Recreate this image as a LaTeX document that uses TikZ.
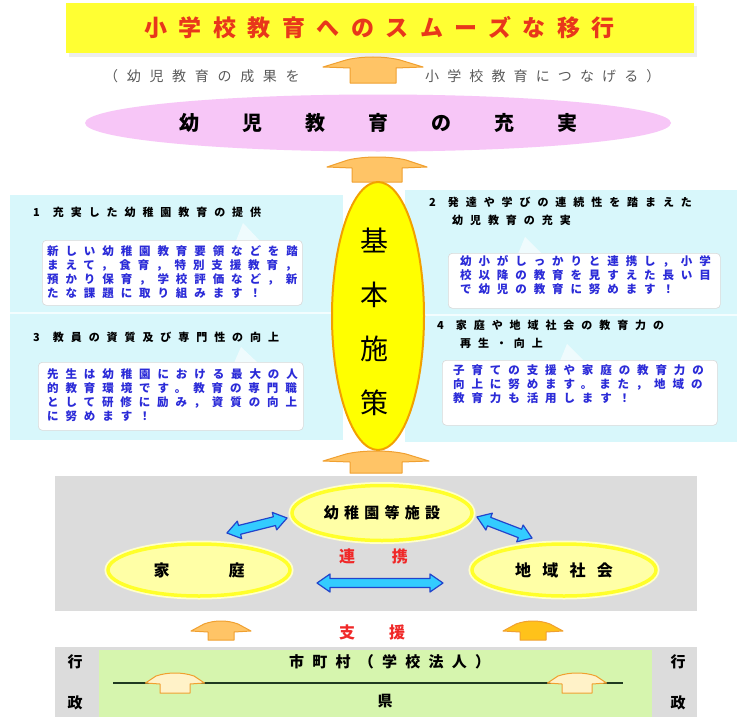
\documentclass[tikz,border=0pt]{standalone}
\usepackage{fontspec}
\setmainfont{Noto Sans CJK JP}
\usetikzlibrary{shapes.geometric}
\definecolor{titleyellow}{HTML}{FFFF33}
\definecolor{titlered}{HTML}{E8371B}
\definecolor{subgray}{HTML}{5A5A5A}
\definecolor{pinkfill}{HTML}{F7C6F7}
\definecolor{arrfill}{HTML}{FFC466}
\definecolor{arrfilltwo}{HTML}{FFC21A}
\definecolor{arrline}{HTML}{F0A030}
\definecolor{creamfill}{HTML}{FFF2C8}
\definecolor{panelcyan}{HTML}{D8F7FB}
\definecolor{bluetext}{HTML}{2B2BD8}
\definecolor{kyellow}{HTML}{FFFF00}
\definecolor{korange}{HTML}{F2A000}
\definecolor{panelgray}{HTML}{DCDCDC}
\definecolor{lyfill}{HTML}{FFFFA6}
\definecolor{lyline}{HTML}{FFFF2A}
\definecolor{cyanfill}{HTML}{33CCFF}
\definecolor{cyanline}{HTML}{2244CC}
\definecolor{redtext}{HTML}{F02828}
\definecolor{greenfill}{HTML}{D6F5AE}
\definecolor{dkgreen}{HTML}{203A20}
\newcommand\UpArr[6]{%
  \path[draw=arrline,fill=#6,line width=1pt,line join=round]
   ({#1-#3/2},{#2+10}) -- ({#1-#4-4},{#2+3})
   .. controls ({#1-#4/2},{#2-1}) and ({#1+#4/2},{#2-1}) .. ({#1+#4+4},{#2+3})
   -- ({#1+#3/2},{#2+10}) -- ({#1+#4},{#2+11}) -- ({#1+#4},{#2+#5})
   -- ({#1-#4},{#2+#5}) -- ({#1-#4},{#2+11}) -- cycle;}
\newcommand\DblArr[4]{%
  \path[draw=cyanline,fill=cyanfill,line width=1.2pt,line join=round,shift={(#1,#2)},rotate=#4]
   ({-#3/2},0) -- ({-#3/2+13},-9) -- ({-#3/2+13},-4.5) -- ({#3/2-13},-4.5)
   -- ({#3/2-13},-9) -- ({#3/2},0) -- ({#3/2-13},9) -- ({#3/2-13},4.5)
   -- ({-#3/2+13},4.5) -- ({-#3/2+13},9) -- cycle;}
\begin{document}
\begin{tikzpicture}[x=1pt,y=-1pt,
  callbox/.style={fill=white,draw=white!85!black,line width=0.6pt,rounded corners=4pt,anchor=north west,inner sep=0pt},
  bluebody/.style={text=bluetext,align=left,anchor=west,inner sep=0pt,
     font=\fontsize{11.5}{14}\selectfont\bfseries\addfontfeatures{LetterSpace=60}},
  heading/.style={text=black,align=left,anchor=west,inner sep=0pt,
     font=\fontsize{11}{18}\selectfont\bfseries\addfontfeatures{LetterSpace=63}},
  lyell/.style={ellipse,fill=lyfill,draw=lyline,line width=3.5pt,inner sep=0pt,
     preaction={draw=lyfill!60!white,line width=7pt}},
]
\useasboundingbox (0,0) rectangle (741,717);
\fill[white] (0,0) rectangle (741,717);

% title
\fill[black!7] (69,6) rectangle (697,57);
\node[fill=titleyellow,minimum width=628pt,minimum height=50pt,anchor=north west,inner sep=0pt] (titlebox) at (66,3) {};
\node[anchor=west,inner sep=0pt,text=titlered,font=\fontsize{23}{23}\selectfont\bfseries\addfontfeatures{LetterSpace=50}] (titletext) at (144,28) {小学校教育へのスムーズな移行};

% subtitle
\node[anchor=west,inner sep=0pt,text=subgray,font=\fontsize{14}{14}\selectfont\addfontfeatures{LetterSpace=62}] (subl) at (104,76) {（幼児教育の成果を};
\node[anchor=west,inner sep=0pt,text=subgray,font=\fontsize{14}{14}\selectfont\addfontfeatures{LetterSpace=58}] (subr) at (425,76) {小学校教育につなげる）};
\UpArr{373}{57}{100}{23}{26}{arrfill}

% pink ellipse
\node[ellipse,fill=pinkfill,minimum width=586pt,minimum height=57pt,inner sep=0pt,
  font=\fontsize{20}{20}\selectfont\bfseries] (juujitsu) at (378,123)
  {幼\hspace{43pt}児\hspace{43pt}教\hspace{43pt}育\hspace{43pt}の\hspace{43pt}充\hspace{43pt}実};
\UpArr{377}{157}{100}{25}{25}{arrfill}

% panels
\fill[panelcyan] (10,195) rectangle (343,440);
\draw[white!70!panelcyan,line width=1.5pt] (10,313) -- (343,313);
\fill[panelcyan] (405,190) rectangle (737,442);
\draw[white!70!panelcyan,line width=1.5pt] (405,315) -- (737,315);

% section 1
\node[heading] (h1) at (33,212) {1\hspace{13pt}充実した幼稚園教育の提供};
\fill[white,opacity=.6] (236,241) -- (243,223) -- (260,241) -- cycle;
\node[callbox,minimum width=260pt,minimum height=65pt] (box1) at (42,240) {};
\node[bluebody] (t1) at (47,272) {新しい幼稚園教育要領などを踏\\まえて，食育，特別支援教育，\\預かり保育，学校評価など，新\\たな課題に取り組みます！};

% section 3
\node[heading] (h3) at (33,337) {3\hspace{13pt}教員の資質及び専門性の向上};
\fill[white,opacity=.6] (234,363) -- (241,347) -- (258,363) -- cycle;
\node[callbox,minimum width=265pt,minimum height=68pt] (box3) at (38,362) {};
\node[bluebody] (t3) at (47,395) {先生は幼稚園における最大の人\\的教育環境です。教育の専門職\\として研修に励み，資質の向上\\に努めます！};

% section 2
\node[heading] (h2) at (429,211) {2\hspace{12pt}発達や学びの連続性を踏まえた\\\hspace*{23pt}幼児教育の充実};
\fill[white,opacity=.6] (518,254) -- (525,237) -- (542,254) -- cycle;
\node[callbox,minimum width=272pt,minimum height=55pt] (box2) at (448,253) {};
\node[bluebody] (t2) at (460,275) {幼小がしっかりと連携し，小学\\校以降の教育を見すえた長い目\\で幼児の教育に努めます！};

% section 4
\node[heading] (h4) at (437,334) {4\hspace{12pt}家庭や地域社会の教育力の\\\hspace*{23pt}再生・向上};
\fill[white,opacity=.6] (560,361) -- (567,344) -- (584,361) -- cycle;
\node[callbox,minimum width=275pt,minimum height=65pt] (box4) at (442,360) {};
\node[bluebody] (t4) at (453,384) {子育ての支援や家庭の教育力の\\向上に努めます。また，地域の\\教育力も活用します！};

% central ellipse
\node[ellipse,fill=kyellow,draw=korange,line width=2pt,minimum width=92pt,minimum height=268pt,inner sep=0pt] (kihon) at (378,316) {};
\node[align=center,inner sep=0pt,font=\fontsize{28}{54}\selectfont] (kihontext) at (374,322) {基\\本\\施\\策};
\UpArr{376}{451}{106}{26}{22}{arrfill}

% gray cooperation panel
\fill[panelgray] (55,476) rectangle (697,611);
\node[lyell,minimum width=180pt,minimum height=55pt,font=\fontsize{15}{15}\selectfont\bfseries\addfontfeatures{LetterSpace=35}] (shisetsu) at (382,513) {幼稚園等施設};
\node[lyell,minimum width=182pt,minimum height=52pt,font=\fontsize{16}{16}\selectfont\bfseries] (katei) at (199,570) {家\hspace{59pt}庭};
\node[lyell,minimum width=184pt,minimum height=52pt,font=\fontsize{16}{16}\selectfont\bfseries\addfontfeatures{LetterSpace=70}] (chiiki) at (564,570) {地域社会};
\node[text=redtext,inner sep=0pt,font=\fontsize{16}{16}\selectfont\bfseries] (renkei) at (373.5,556) {連\hspace{37pt}携};
\DblArr{380}{583}{126}{0}
\DblArr{257}{525.5}{62}{14}
\DblArr{504.5}{527.5}{59}{-21}

% support
\node[text=redtext,inner sep=0pt,font=\fontsize{16}{16}\selectfont\bfseries] (shien) at (372,632) {支\hspace{34pt}援};
\UpArr{221}{621}{60}{13}{19}{arrfill}
\UpArr{533}{621}{60}{13}{19}{arrfilltwo}

% administration band
\fill[panelgray] (55,647) rectangle (697,717);
\fill[greenfill] (99,650) rectangle (652,717);
\coordinate (lineL) at (113,683);
\coordinate (lineR) at (623,683);
\draw[dkgreen,line width=2pt] (lineL) -- (lineR);
\UpArr{175}{673}{59}{15}{20}{creamfill}
\UpArr{577}{673}{59}{15}{20}{creamfill}
\node[anchor=west,inner sep=0pt,font=\fontsize{15}{15}\selectfont\bfseries\addfontfeatures{LetterSpace=55}] (shichoson) at (289,662) {市町村（学校法人）};
\node[inner sep=0pt,font=\fontsize{15}{15}\selectfont\bfseries] (ken) at (385,701) {県};
\node[inner sep=0pt,font=\fontsize{15}{15}\selectfont\bfseries] (gyoL) at (75,662) {行};
\node[inner sep=0pt,font=\fontsize{15}{15}\selectfont\bfseries] (seiL) at (75,703) {政};
\node[inner sep=0pt,font=\fontsize{15}{15}\selectfont\bfseries] (gyoR) at (678,662) {行};
\node[inner sep=0pt,font=\fontsize{15}{15}\selectfont\bfseries] (seiR) at (678,703) {政};
\end{tikzpicture}
\end{document}
